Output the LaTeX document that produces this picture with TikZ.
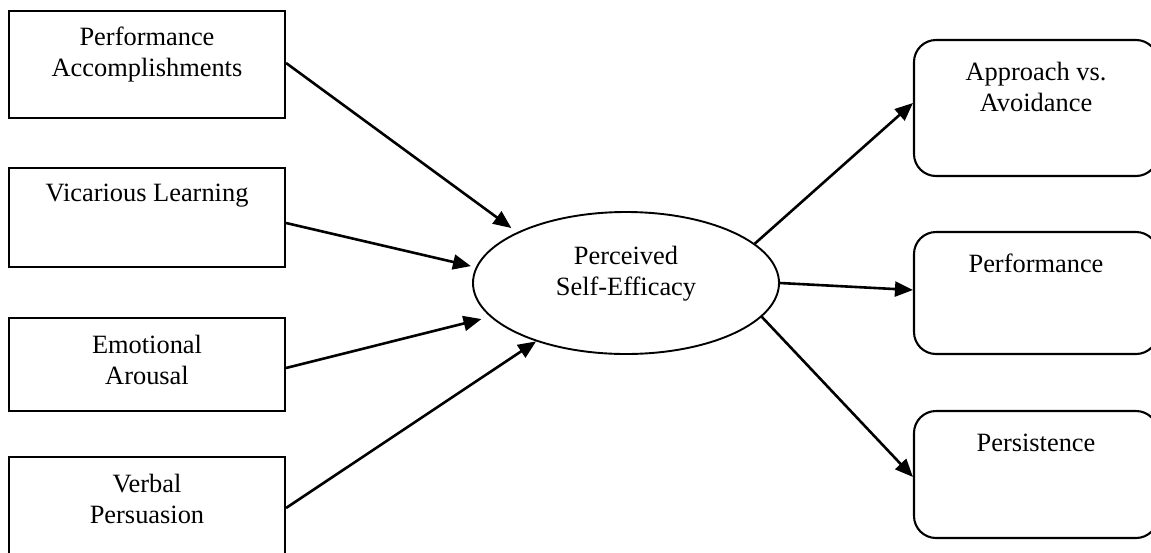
\documentclass[tikz,border=0pt]{standalone}
\usepackage{fontspec}
\setmainfont{Liberation Serif}
\usetikzlibrary{shapes.geometric,arrows.meta}
\begin{document}
\begin{tikzpicture}[x=1pt,y=-1pt,
  leftbox/.style={draw, line width=2.1pt, minimum width=276pt, inner sep=0pt},
  rightbox/.style={draw, line width=2.1pt, rounded corners=22pt, minimum width=244pt, inner sep=0pt},
  centre/.style={draw, ellipse, line width=1.9pt, minimum width=306pt, minimum height=142pt, inner sep=0pt},
  lbl/.style={font=\fontsize{26.4}{31}\selectfont, align=center, inner sep=0pt, anchor=north},
  arr/.style={line width=2.6pt, -{Triangle[length=18pt,width=15pt]}}]
\useasboundingbox (0,0) rectangle (1151,552);
\clip (0,0) rectangle (1151,552);
% left boxes
\node[leftbox, minimum height=107pt] (b1) at (147,64.5) {};
\node[leftbox, minimum height=99pt] (b2) at (147,217.5) {};
\node[leftbox, minimum height=93pt] (b3) at (147,364.5) {};
\node[leftbox, minimum height=99pt] (b4) at (147,506.5) {};
\node[lbl] (t1) at (147,27) {Performance\\Accomplishments};
\node[lbl] (t2) at (147,184) {Vicarious Learning};
\node[lbl] (t3) at (147,335) {Emotional\\Arousal};
\node[lbl] (t4) at (147,474) {Verbal\\Persuasion};
% centre
\node[centre] (se) at (626,283) {};
\node[lbl] (ts) at (626,246) {Perceived\\Self-Efficacy};
% right boxes
\node[rightbox, minimum height=136pt] (apa) at (1036,108) {};
\node[rightbox, minimum height=122pt] (perf) at (1036,293) {};
\node[rightbox, minimum height=127pt] (pers) at (1036,474.5) {};
\node[lbl] (ta) at (1036,62) {Approach vs.\\Avoidance};
\node[lbl] (tp) at (1036,254) {Performance};
\node[lbl] (tr) at (1036,434) {Persistence};
% arrows in
\draw[arr, shorten >=7pt] ([yshift=1.5pt]b1.east) -- (se.155.4);
\draw[arr, shorten >=5pt] ([yshift=-5.5pt]b2.east) -- (se.174);
\draw[arr, shorten >=9pt] ([yshift=-3.5pt]b3.east) -- (se.194);
\draw[arr] ([yshift=-1.5pt]b4.east) -- (se.213.7);
% arrows out
\draw[arr] (se.17.2) -- ([yshift=5pt]apa.west);
\draw[arr] (se.east) -- ([yshift=3pt]perf.west);
\draw[arr] (se.-14.8) -- ([yshift=-2.5pt]pers.west);
\end{tikzpicture}
\end{document}
